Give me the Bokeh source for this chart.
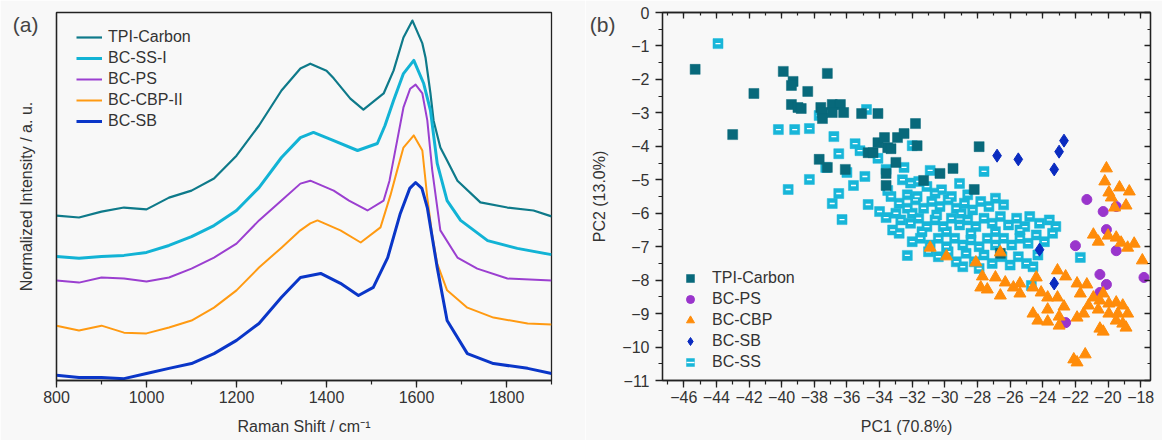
from bokeh.plotting import figure
from bokeh.layouts import row
from bokeh.models import (Range1d, LinearAxis, SingleIntervalTicker, FixedTicker,
                          Legend, LegendItem, CustomJSTickFormatter)
from bokeh.embed import file_html
from bokeh.resources import INLINE

# ---------------- (a) Raman spectra (offset, normalized intensity, a.u.) ----------------
tpi_x = [800, 850, 900, 950, 1000, 1050, 1100, 1150, 1200, 1250, 1300, 1342, 1364, 1400, 1416,
         1453, 1482, 1527, 1549, 1571, 1591, 1613, 1620, 1631, 1638, 1653, 1668, 1691, 1742,
         1802, 1860, 1900]
tpi_y = [44.8, 44.3, 45.9, 47.0, 46.5, 49.7, 51.6, 54.9, 61.1, 69.3, 78.8, 84.8, 86.1, 84.2, 82.1,
         76.6, 73.6, 78.0, 84.2, 93.2, 97.8, 91.6, 87.8, 78.0, 70.6, 63.3, 59.8, 54.3, 48.4,
         47.0, 46.2, 44.6]

ss_x = [800, 850, 900, 950, 1000, 1050, 1100, 1150, 1200, 1250, 1300, 1342, 1371, 1416, 1469,
        1513, 1530, 1549, 1571, 1594, 1616, 1631, 1646, 1668, 1698, 1758, 1824, 1900]
ss_y = [33.7, 33.2, 33.7, 34.0, 34.8, 36.7, 39.1, 42.1, 46.2, 52.4, 60.6, 66.0, 67.4, 65.2, 62.5,
        64.4, 69.3, 76.1, 83.4, 87.0, 80.7, 73.4, 59.0, 48.9, 43.5, 38.0, 35.9, 34.2]

ps_x = [800, 850, 900, 950, 1000, 1050, 1100, 1150, 1200, 1250, 1300, 1342, 1364, 1416, 1450,
        1491, 1527, 1540, 1557, 1571, 1586, 1598, 1613, 1624, 1635, 1653, 1691, 1735, 1802, 1900]
ps_y = [27.2, 26.6, 28.0, 27.7, 26.9, 28.0, 30.4, 33.4, 37.2, 43.5, 48.9, 53.5, 54.3, 51.6, 48.9,
        46.2, 48.9, 54.3, 65.2, 74.2, 79.3, 80.4, 78.0, 70.7, 57.1, 40.8, 33.4, 30.4, 27.7, 27.2]

cbp_x = [800, 850, 900, 950, 1000, 1050, 1100, 1150, 1200, 1250, 1300, 1342, 1364, 1380, 1431,
         1476, 1520, 1542, 1557, 1571, 1594, 1613, 1624, 1635, 1646, 1668, 1713, 1771, 1847, 1900]
cbp_y = [14.9, 13.6, 14.9, 13.0, 12.8, 14.4, 16.3, 19.8, 24.5, 30.7, 36.1, 40.8, 42.7, 43.5, 40.8,
         37.5, 41.6, 50.3, 57.1, 63.3, 66.6, 62.5, 49.7, 39.4, 31.8, 24.5, 19.8, 17.1, 15.5, 15.2]

sb_x = [800, 850, 900, 950, 1000, 1050, 1100, 1150, 1200, 1250, 1300, 1342, 1387, 1431, 1471,
        1504, 1536, 1564, 1585, 1598, 1612, 1624, 1646, 1668, 1713, 1771, 1847, 1900]
sb_y = [1.4, 0.8, 0.8, 0.5, 1.9, 3.3, 4.6, 7.3, 10.9, 15.5, 22.6, 28.0, 29.1, 26.4, 23.1,
        25.3, 33.4, 45.4, 52.2, 53.8, 52.2, 47.0, 30.7, 16.3, 7.3, 4.6, 3.3, 1.9]

spectra_names = ["TPI-Carbon", "BC-SS-I", "BC-PS", "BC-CBP-II", "BC-SB"]

# ---------------- (b) PCA scores ----------------
tpi_pc1 = [-45.3, -43.0, -41.7, -39.9, -39.3, -39.4, -38.4, -37.2, -39.4, -39.0, -38.8, -37.6,
           -37.5, -36.9, -36.4, -36.9, -36.2, -37.5, -35.1, -34.1, -37.7, -37.2, -36.1, -34.7,
           -34.4, -34.1, -33.7, -33.5, -33.3, -33.0, -32.9, -33.6, -32.5, -31.7, -33.6, -31.3,
           -30.3, -29.5, -28.2, -27.9, -31.8, -26.6]
tpi_pc2 = [-1.70, -3.65, -2.42, -1.76, -2.06, -2.18, -2.36, -1.82, -2.75, -2.84, -2.87, -2.84,
           -2.99, -2.75, -2.75, -2.99, -2.99, -3.17, -3.02, -3.02, -4.39, -4.63, -4.69, -4.19,
           -4.19, -3.89, -3.74, -4.04, -4.07, -4.48, -3.74, -4.81, -3.62, -3.98, -5.17, -5.02,
           -4.81, -4.66, -5.29, -4.01, -3.32, -7.20]

ps_pc1 = [-21.3, -20.3, -19.5, -20.1, -19.5, -22.0, -17.8, -20.5, -20.1, -20.5, -22.6]
ps_pc2 = [-5.59, -5.95, -5.80, -6.49, -7.12, -6.97, -7.92, -7.83, -8.13, -8.37, -9.27]

cbp_pc1 = [-20.1, -20.2, -19.95, -19.3, -18.7, -19.6, -18.9, -19.8, -20.9, -20.6, -20.0, -19.5,
           -19.2, -18.8, -18.4, -17.9, -30.9, -29.9, -28.1, -26.6, -27.7, -26.9, -27.8, -27.4,
           -26.3, -26.6, -25.8, -25.4, -25.4, -24.4, -24.6, -24.1, -23.7, -23.1, -22.6, -23.1,
           -22.7, -24.6, -23.7, -24.3, -23.7, -23.0, -23.0, -21.9, -21.3, -21.7, -20.9, -21.2,
           -21.5, -21.9, -20.3, -20.5, -19.95, -19.5, -19.1, -18.8, -19.95, -19.4, -20.6, -19.5,
           -19.1, -20.5, -22.1, -21.9, -21.4, -20.3, -18.9]
cbp_pc2 = [-4.66, -5.05, -5.38, -5.23, -5.35, -5.83, -5.77, -5.53, -6.64, -6.85, -6.67, -6.73,
           -6.88, -7.03, -6.91, -7.41, -7.03, -7.29, -7.47, -7.17, -7.89, -7.92, -8.22, -8.28,
           -8.07, -8.46, -8.22, -8.10, -8.40, -7.92, -8.22, -8.37, -8.52, -7.71, -7.89, -8.52,
           -8.79, -9.00, -8.88, -9.21, -9.24, -9.09, -9.36, -8.10, -8.13, -8.40, -8.52, -8.76,
           -9.00, -9.12, -8.40, -8.61, -8.70, -8.67, -8.76, -9.00, -9.00, -9.00, -8.88, -9.21,
           -9.30, -9.45, -10.37, -10.46, -10.22, -9.54, -9.42]

sb_pc1 = [-26.8, -25.5, -22.7, -23.0, -23.3, -24.2, -23.3]
sb_pc2 = [-4.28, -4.39, -3.83, -4.16, -4.69, -7.09, -8.10]

ss_pc1 = [-43.9, -40.2, -39.2, -38.3, -37.7, -36.8, -36.5, -35.5, -35.2, -34.8, -34.1, -33.6,
          -34.9, -36.0, -37.3, -38.3, -39.6, -36.5, -35.6, -36.9, -36.3, -34.7, -34.0, -33.6,
          -33.5, -32.5, -32.0, -30.9, -29.1, -27.6, -32.3, -21.7, -24.7,
          -32.6, -32.1, -31.6, -31.1, -30.6, -32.3, -31.7, -30.2, -28.6, -29.6,
          -32.8, -32.3, -31.8, -31.3, -30.8, -30.3, -29.8, -29.3, -28.8, -28.3, -27.8, -27.3,
          -26.9, -32.0, -30.5, -29.0, -26.4,
          -32.7, -32.1, -31.6, -31.1, -30.6, -30.1, -29.6, -29.1, -28.6, -28.1, -27.6, -27.1,
          -26.6, -26.1, -25.6, -25.1, -24.8, -31.4, -29.9, -28.4, -26.9, -25.4, -24.2, -23.6,
          -32.0, -31.5, -30.9, -30.4, -29.9, -29.4, -28.9, -28.4, -27.9, -27.4, -26.9, -26.4,
          -25.9, -25.4, -24.9, -24.4, -23.9, -23.4, -23.2,
          -31.0, -30.4, -29.8, -29.3, -28.7, -28.2, -27.6, -27.1, -26.5, -26.0, -25.5, -25.0,
          -24.6, -28.9, -27.9, -24.3,
          -33.3, -33.0, -33.2, -32.8]
ss_pc2 = [-0.93, -3.50, -3.50, -3.47, -3.08, -3.71, -4.22, -3.92, -4.13, -2.90, -4.36, -4.69,
          -4.90, -4.78, -4.63, -4.99, -5.29, -5.41, -5.17, -5.71, -6.19, -5.74, -5.95, -6.13,
          -5.32, -4.63, -3.98, -4.72, -5.11, -4.75, -7.26, -7.32, -8.16,
          -5.00, -5.10, -5.05, -5.20, -5.40, -5.45, -5.50, -5.30, -5.45, -5.50,
          -5.70, -5.85, -5.60, -5.85, -5.65, -5.80, -5.60, -5.85, -5.70, -5.90, -5.65, -5.80,
          -5.55, -6.00, -6.05, -6.00, -5.75,
          -6.20, -6.30, -6.15, -6.40, -6.20, -6.40, -6.15, -6.35, -6.20, -6.40, -6.15, -6.30,
          -6.10, -6.35, -6.15, -6.40, -6.10, -6.55, -6.55, -6.60, -6.55, -6.50, -6.30, -6.20,
          -6.85, -6.75, -6.95, -6.75, -7.00, -6.75, -6.95, -6.80, -7.00, -6.75, -6.95, -6.75,
          -6.95, -6.75, -6.90, -6.65, -6.85, -6.60, -6.40,
          -7.15, -7.30, -7.15, -7.45, -7.20, -7.45, -7.25, -7.50, -7.30, -7.55, -7.30, -7.50,
          -7.60, -7.60, -7.65, -7.25,
          -5.50, -6.00, -6.50, -6.60]

FONT = "Liberation Sans"
TXT = "#333333"
BG = "#f8f8f8"
LINE = "#222222"


def style_axis(ax):
    ax.axis_line_color = LINE
    ax.axis_line_width = 1.3
    ax.major_tick_line_color = LINE
    ax.minor_tick_line_color = LINE
    ax.major_tick_line_width = 1.3
    ax.minor_tick_line_width = 1.2
    ax.major_label_text_font = FONT
    ax.major_label_text_font_size = "16px"
    ax.major_label_text_color = TXT
    ax.axis_label_text_font = FONT
    ax.axis_label_text_font_size = "16px"
    ax.axis_label_text_font_style = "normal"
    ax.axis_label_text_color = TXT


def base_style(p):
    p.background_fill_color = BG
    p.border_fill_color = BG
    p.outline_line_color = LINE
    p.outline_line_width = 1.3
    p.grid.visible = False


def panel_tag_axis(ax, pos, tag, standoff, label, label_standoff):
    # axis used only to carry the panel tag "(a)"/"(b)" and the vertical title
    style_axis(ax)
    ax.ticker = FixedTicker(ticks=[pos], minor_ticks=[])
    ax.major_label_overrides = {pos: tag}
    ax.major_label_text_font_size = "21px"
    ax.major_label_text_color = "#444444"
    ax.major_label_standoff = standoff
    ax.major_tick_in = 0
    ax.major_tick_out = 0
    ax.minor_tick_in = 0
    ax.minor_tick_out = 0
    ax.axis_label = label
    ax.axis_label_standoff = label_standoff


# ---------------- panel (a) ----------------
pa = figure(width=585, height=440, output_backend="svg", toolbar_location=None,
            x_range=Range1d(800, 1900), y_range=Range1d(0, 100),
            min_border_left=56, min_border_right=34, min_border_top=12, min_border_bottom=60)
base_style(pa)
xa = pa.below[0]
ya = pa.left[0]
style_axis(xa)
xa.ticker = SingleIntervalTicker(interval=200, num_minor_ticks=2)
xa.major_tick_in = 0
xa.major_tick_out = 7
xa.minor_tick_in = 0
xa.minor_tick_out = 4
xa.major_label_standoff = 3
xa.axis_label = "Raman Shift / cm\u207b\u00b9"
xa.axis_label_standoff = 12
panel_tag_axis(ya, 96.7, "(a)", 18, "Normalized Intensity / a. u.", -25)

spec_cols = ["#0e7a8a", "#12b3d5", "#9b3fd0", "#ff9a12", "#0a36c8"]
spec_w = [2.2, 3.0, 2.0, 2.0, 3.0]
series = [(tpi_x, tpi_y), (ss_x, ss_y), (ps_x, ps_y), (cbp_x, cbp_y), (sb_x, sb_y)]
items_a = []
for (xs, ys), c, w, name in zip(series, spec_cols, spec_w, spectra_names):
    r = pa.line(xs, ys, line_color=c, line_width=w, line_join="round")
    items_a.append(LegendItem(label=name, renderers=[r]))

leg_a = Legend(items=items_a, location=(20, 249), orientation="vertical",
               background_fill_alpha=0, border_line_alpha=0, padding=0, margin=0,
               spacing=1, glyph_width=26, glyph_height=20, label_height=20,
               label_standoff=6, label_text_font=FONT, label_text_font_size="16px",
               label_text_color=TXT)
pa.add_layout(leg_a)

# ---------------- panel (b) ----------------
pb = figure(width=577, height=440, output_backend="svg", toolbar_location=None,
            x_range=Range1d(-47.3, -17.4), y_range=Range1d(-11, 0),
            min_border_left=77, min_border_right=12, min_border_top=12, min_border_bottom=60)
base_style(pb)
xb = pb.below[0]
yb = pb.left[0]
style_axis(xb)
style_axis(yb)
xb.ticker = SingleIntervalTicker(interval=2, num_minor_ticks=2)
yb.ticker = SingleIntervalTicker(interval=1, num_minor_ticks=2)
xb.major_tick_in = 0
xb.major_tick_out = 7
xb.minor_tick_in = 0
xb.minor_tick_out = 4
xb.major_label_standoff = 3
xb.axis_label = "PC1 (70.8%)"
xb.axis_label_standoff = 12
yb.major_tick_in = 0
yb.major_tick_out = 7
yb.minor_tick_in = 0
yb.minor_tick_out = 4
yb.major_label_standoff = 6

tag_b = LinearAxis()
pb.add_layout(tag_b, "left")
panel_tag_axis(tag_b, -0.36, "(b)", 4, "PC2 (13.0%)", -21)
tag_b.axis_line_alpha = 0

blank = CustomJSTickFormatter(code="return ''")
top_ax = LinearAxis(ticker=SingleIntervalTicker(interval=2, num_minor_ticks=2))
right_ax = LinearAxis(ticker=SingleIntervalTicker(interval=1, num_minor_ticks=2))
for ax in (top_ax, right_ax):
    style_axis(ax)
    ax.formatter = blank
    ax.major_label_standoff = 0
    ax.major_tick_in = 6
    ax.major_tick_out = 0
    ax.minor_tick_in = 3
    ax.minor_tick_out = 0
pb.add_layout(top_ax, "above")
pb.add_layout(right_ax, "right")

r_ss = pb.scatter(ss_pc1, ss_pc2, marker="square", size=10, fill_color="#18b6d9",
                  line_color="#18b6d9", line_width=0.5)
r_ss2 = pb.scatter(ss_pc1, ss_pc2, marker="dash", size=5, line_color="white", line_width=1.4)
r_tpi = pb.scatter(tpi_pc1, tpi_pc2, marker="square", size=10, fill_color="#08697b",
                   line_color="#08697b", line_width=0.5)
r_ps = pb.scatter(ps_pc1, ps_pc2, marker="circle", size=10, fill_color="#9a35cc",
                  line_color="#9a35cc")
r_cbp = pb.scatter(cbp_pc1, cbp_pc2, marker="triangle", size=12, fill_color="#ff8c0a",
                   line_color="#ff8c0a")
r_sb = pb.scatter(sb_pc1, sb_pc2, marker="diamond", size=13, fill_color="#0a2bc0",
                  line_color="#0a2bc0")

items_b = [LegendItem(label="TPI-Carbon", renderers=[r_tpi]),
           LegendItem(label="BC-PS", renderers=[r_ps]),
           LegendItem(label="BC-CBP", renderers=[r_cbp]),
           LegendItem(label="BC-SB", renderers=[r_sb]),
           LegendItem(label="BC-SS", renderers=[r_ss, r_ss2])]
leg_b = Legend(items=items_b, location=(18, 8), orientation="vertical",
               background_fill_alpha=0, border_line_alpha=0, padding=0, margin=0,
               spacing=1, glyph_width=20, glyph_height=20, label_height=20,
               label_standoff=12, label_text_font=FONT, label_text_font_size="16px",
               label_text_color=TXT)
pb.add_layout(leg_b)

layout = row(pa, pb)
open("out.html", "w").write(file_html(layout, INLINE))
